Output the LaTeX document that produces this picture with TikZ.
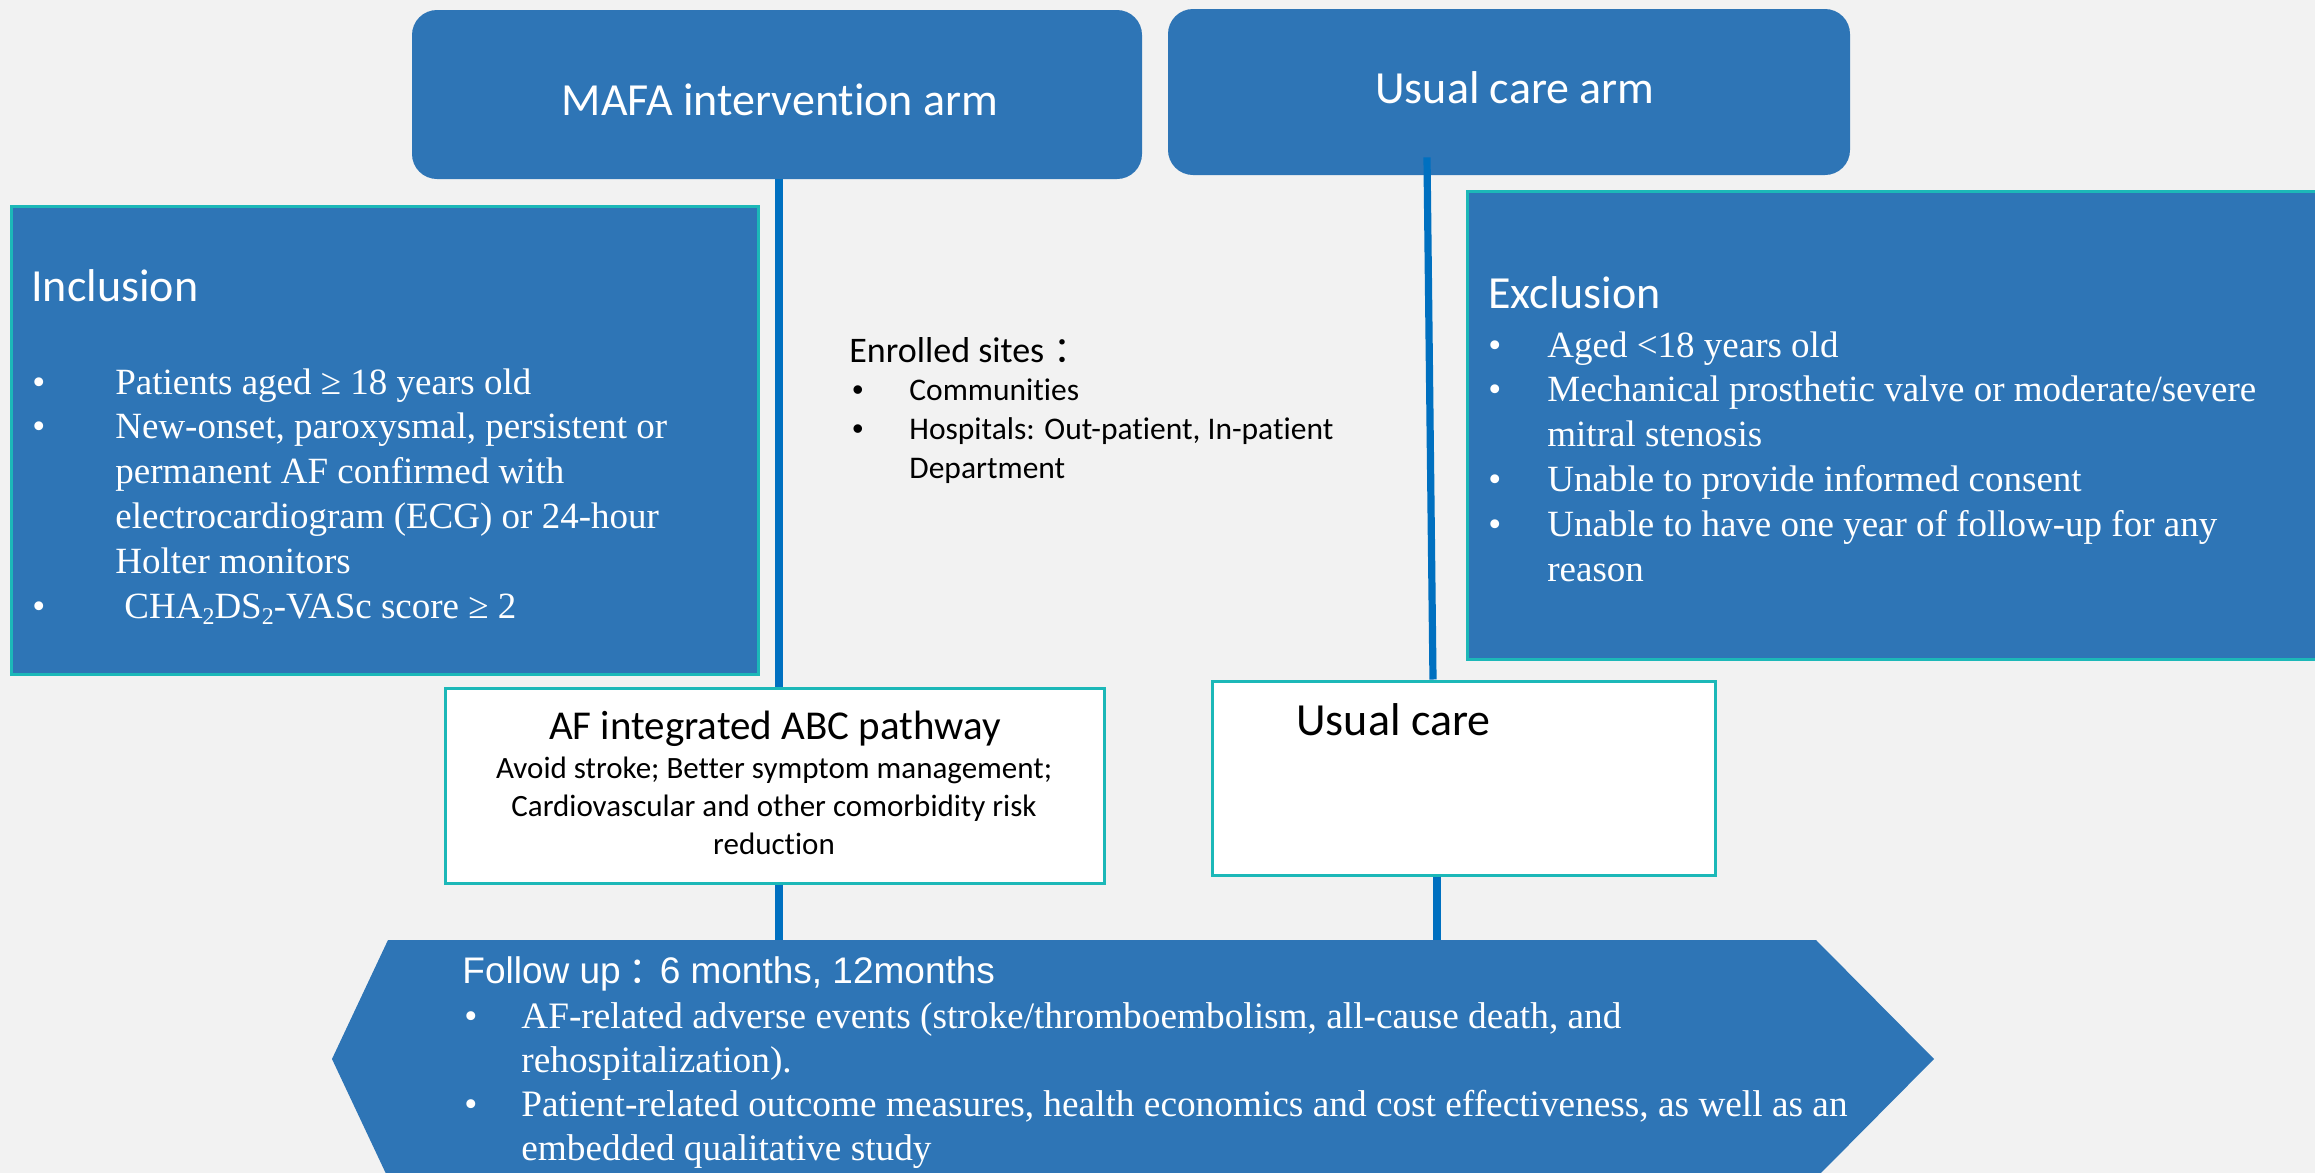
\documentclass[tikz,border=0pt]{standalone}
\usepackage{fontspec}
\setmainfont{Liberation Serif}
\newfontfamily\calfont[Ligatures={NoCommon,NoContextual}]{Carlito}
\newfontfamily\arialfont{Liberation Sans}
\newfontfamily\cjk{Noto Sans CJK SC}
\usetikzlibrary{calc}
\definecolor{bg}{HTML}{F2F2F2}
\definecolor{boxblue}{HTML}{2E75B6}
\definecolor{lineblue}{HTML}{0070C0}
\definecolor{tealb}{HTML}{1CB8B8}
\begin{document}
\begin{tikzpicture}[x=0.5pt,y=-0.5pt,
  armbox/.style={fill=boxblue, rounded corners=12.5pt, inner sep=0},
  critbox/.style={fill=boxblue, draw=tealb, line width=1.5pt, inner sep=0},
  whitebox/.style={fill=white, draw=tealb, line width=1.5pt, inner sep=0},
  conn/.style={draw=lineblue, line width=3.6pt},
  txt/.style={inner sep=0, anchor=base west, text=white},
  head/.style={font=\calfont\fontsize{23}{27.6}\selectfont},
  serif/.style={font=\fontsize{18.5}{22.4}\selectfont}]
\clip (0,0) rectangle (2315,1173);
\fill[bg] (0,0) rectangle (2315,1173);
% boxes
\node[armbox, minimum width=365pt, minimum height=84.5pt] (mafa) at (777,94.5) {};
\node[armbox, minimum width=341pt, minimum height=83pt] (ucarm) at (1509,92) {};
\node[critbox, minimum width=373.5pt, minimum height=234pt] (incl) at (384.5,440) {};
\node[critbox, minimum width=436.5pt, minimum height=234pt] (excl) at (1903.5,425) {};
\node[whitebox, minimum width=329.5pt, minimum height=97.5pt] (abc) at (774.5,785.5) {};
\node[whitebox, minimum width=251.5pt, minimum height=97pt] (uc) at (1463.5,778) {};
% follow-up hexagon
\coordinate (hexL) at (332,1059);
\coordinate (hexTL) at (388,940);
\coordinate (hexTR) at (1816,940);
\coordinate (hexR) at (1934,1059);
\coordinate (hexBR) at (1816,1178);
\coordinate (hexBL) at (388,1178);
\fill[boxblue] (hexL) -- (hexTL) -- (hexTR) -- (hexR) -- (hexBR) -- (hexBL) -- cycle;
% connectors
\coordinate (mx) at (779,0);
\coordinate (ux) at (1437,0);
\draw[conn] (mafa.south -| mx) -- (abc.north -| mx);
\draw[conn] (abc.south -| mx) -- (hexTL -| mx);
\draw[conn] ($(ucarm.south)+(-82,-18)$) -- ($(uc.north)+(-30.5,0)$);
\draw[conn] (uc.south -| ux) -- (hexTL -| ux);
% texts
\node[txt, head, anchor=base] (mafaT) at (780,115) {MAFA intervention arm};
\node[txt, head, anchor=base] (ucarmT) at (1515,103) {Usual care arm};
\node[txt, head] (inclT) at (31,301) {Inclusion};
\node[txt, serif] (inclL) at (32,394) {\begin{tabular}[t]{@{}p{41.5pt}@{}l@{}}
•& Patients aged ≥ 18 years old\\
•& New-onset, paroxysmal, persistent or\\
 & permanent AF confirmed with\\
 & electrocardiogram (ECG) or 24-hour\\
 & Holter monitors\\
•& \hspace{4.5pt}CHA\raisebox{-3pt}{\fontsize{12}{12}\selectfont 2}DS\raisebox{-3pt}{\fontsize{12}{12}\selectfont 2}-VASc score ≥ 2
\end{tabular}};
\node[txt, head] (exclT) at (1488,308) {Exclusion};
\node[txt, serif] (exclL) at (1488,357) {\begin{tabular}[t]{@{}p{29.5pt}@{}l@{}}
•& Aged <18 years old\\
•& Mechanical prosthetic valve or moderate/severe\\
 & mitral stenosis\\
•& Unable to provide informed consent\\
•& Unable to have one year of follow-up for any\\
 & reason
\end{tabular}};
\node[txt, text=black, font=\calfont\fontsize{18}{21.6}\selectfont] (siteT) at (849,362) {Enrolled sites{\cjk\hspace{4.5pt}：}};
\node[txt, text=black, font=\calfont\fontsize{15.75}{19.5}\selectfont] (siteL) at (852,400) {\begin{tabular}[t]{@{}p{28.5pt}@{}l@{}}
{\arialfont •}& Communities\\
{\arialfont •}& Hospitals: Out-patient, In-patient\\
 & Department
\end{tabular}};
\node[txt, text=black, anchor=base, font=\calfont\fontsize{20.5}{24.6}\selectfont] (abcT) at (775,739) {AF integrated ABC pathway};
\node[txt, text=black, anchor=base, font=\calfont\fontsize{15.5}{19}\selectfont] (abcL) at (774,778) {\begin{tabular}[t]{@{}c@{}}
Avoid stroke; Better symptom management;\\
Cardiovascular and other comorbidity risk\\
reduction
\end{tabular}};
\node[txt, text=black, head] (ucT) at (1296,735) {Usual care};
\node[txt, font=\arialfont\fontsize{18.5}{22}\selectfont] (fuT) at (462,983) {Follow up{\cjk\hspace{4pt}：\hspace{-3pt}}6 months, 12months};
\node[txt, font=\fontsize{18.65}{22}\selectfont] (fuL) at (464,1028) {\begin{tabular}[t]{@{}p{28.5pt}@{}l@{}}
•& AF-related adverse events (stroke/thromboembolism, all-cause death, and\\
 & rehospitalization).\\
•& Patient-related outcome measures, health economics and cost effectiveness, as well as an\\
 & embedded qualitative study
\end{tabular}};
\end{tikzpicture}
\end{document}
